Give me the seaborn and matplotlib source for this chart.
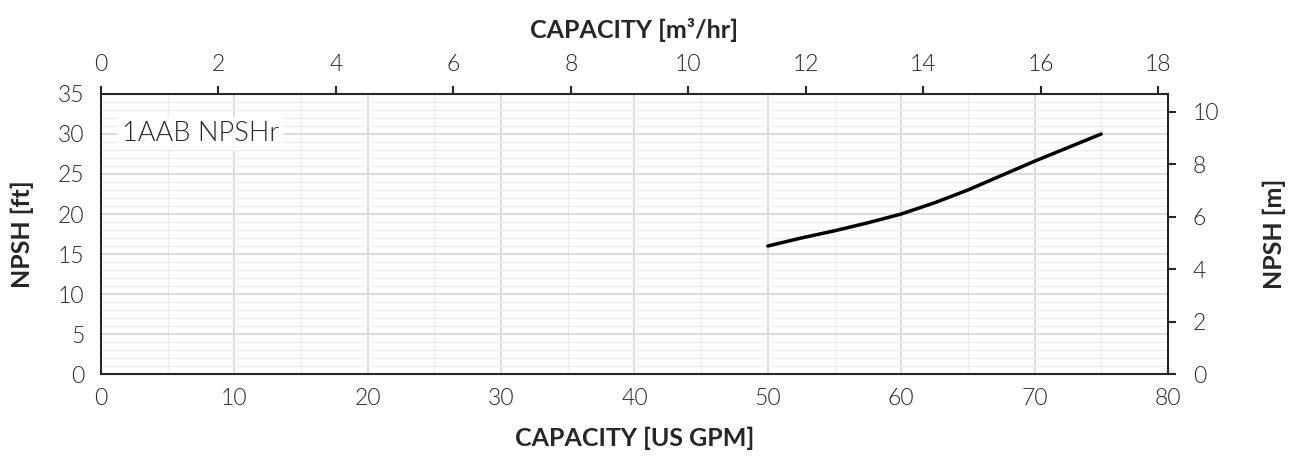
import numpy as np
import pandas as pd
import matplotlib
matplotlib.use("Agg")
import matplotlib.pyplot as plt
import seaborn as sns
from matplotlib.ticker import MultipleLocator

# NPSHr curve
gpm = [50, 52.5, 55, 57.5, 60, 62.5, 65, 67.5, 70, 72.5, 75]
npsh_ft = [16.0, 17.0, 17.9, 18.9, 20.0, 21.4, 23.0, 24.8, 26.6, 28.3, 30.0]
curve_label = "1AAB NPSHr"

GPM_TO_M3H = 0.2271247
FT_TO_M = 0.3048

sns.set_theme(style="white")
plt.rcParams["font.family"] = ["Lato", "DejaVu Sans"]

df = pd.DataFrame({"gpm": gpm, "ft": npsh_ft})

fig = plt.figure(figsize=(12.99, 4.66), dpi=100)
ax = fig.add_axes([0.0778, 0.1974, 0.8213, 0.6009])

sns.lineplot(data=df, x="gpm", y="ft", ax=ax, color="black", linewidth=2.5,
             zorder=5)

ax.set_xlim(0, 80)
ax.set_ylim(0, 35)
ax.xaxis.set_major_locator(MultipleLocator(10))
ax.xaxis.set_minor_locator(MultipleLocator(5))
ax.yaxis.set_major_locator(MultipleLocator(5))
ax.yaxis.set_minor_locator(MultipleLocator(1))
ax.grid(which="major", color="#d9d9d9", linewidth=1.3, zorder=0)
ax.grid(which="minor", color="#ececec", linewidth=1.0, zorder=0)
ax.set_axisbelow(True)

text_col = "#262626"
tick_size = 16.5
label_size = 18
for s in ax.spines.values():
    s.set_color("#262626")
    s.set_linewidth(1.5)

ax.tick_params(axis="both", which="both", length=0, labelsize=tick_size,
               labelcolor=text_col)
ax.tick_params(axis="y", pad=12)
ax.tick_params(axis="x", pad=10)
for lbl in ax.get_xticklabels() + ax.get_yticklabels():
    lbl.set_fontweight(300)

ax.set_xlabel("CAPACITY [US GPM]", fontsize=label_size, fontweight="bold",
              color=text_col, labelpad=13)
ax.set_ylabel("NPSH [ft]", fontsize=label_size, fontweight="bold",
              color=text_col, labelpad=17)

# secondary axes
top = ax.secondary_xaxis("top", functions=(lambda x: x * GPM_TO_M3H,
                                           lambda x: x / GPM_TO_M3H))
top.xaxis.set_major_locator(MultipleLocator(2))
top.set_xlabel("CAPACITY [m³/hr]", fontsize=label_size, fontweight="bold",
               color=text_col, labelpad=11)
top.tick_params(length=6, width=1.5, color="#262626", labelsize=tick_size,
                labelcolor=text_col, pad=8)
top.spines["top"].set_visible(False)
for lbl in top.get_xticklabels():
    lbl.set_fontweight(300)

right = ax.secondary_yaxis("right", functions=(lambda y: y * FT_TO_M,
                                               lambda y: y / FT_TO_M))
right.yaxis.set_major_locator(MultipleLocator(2))
right.set_ylabel("NPSH [m]", fontsize=label_size, fontweight="bold",
                 color=text_col, labelpad=31)
right.tick_params(length=6, width=1.5, color="#262626", labelsize=tick_size,
                  labelcolor=text_col, pad=12)
right.spines["right"].set_visible(False)
for lbl in right.get_yticklabels():
    lbl.set_fontweight(300)

ax.text(1.6, 30.1, curve_label, fontsize=19.5, fontweight=300,
        color=text_col, va="center", ha="left", zorder=6,
        bbox=dict(facecolor="white", edgecolor="none", pad=3))

fig.savefig("out.png", dpi=100)
